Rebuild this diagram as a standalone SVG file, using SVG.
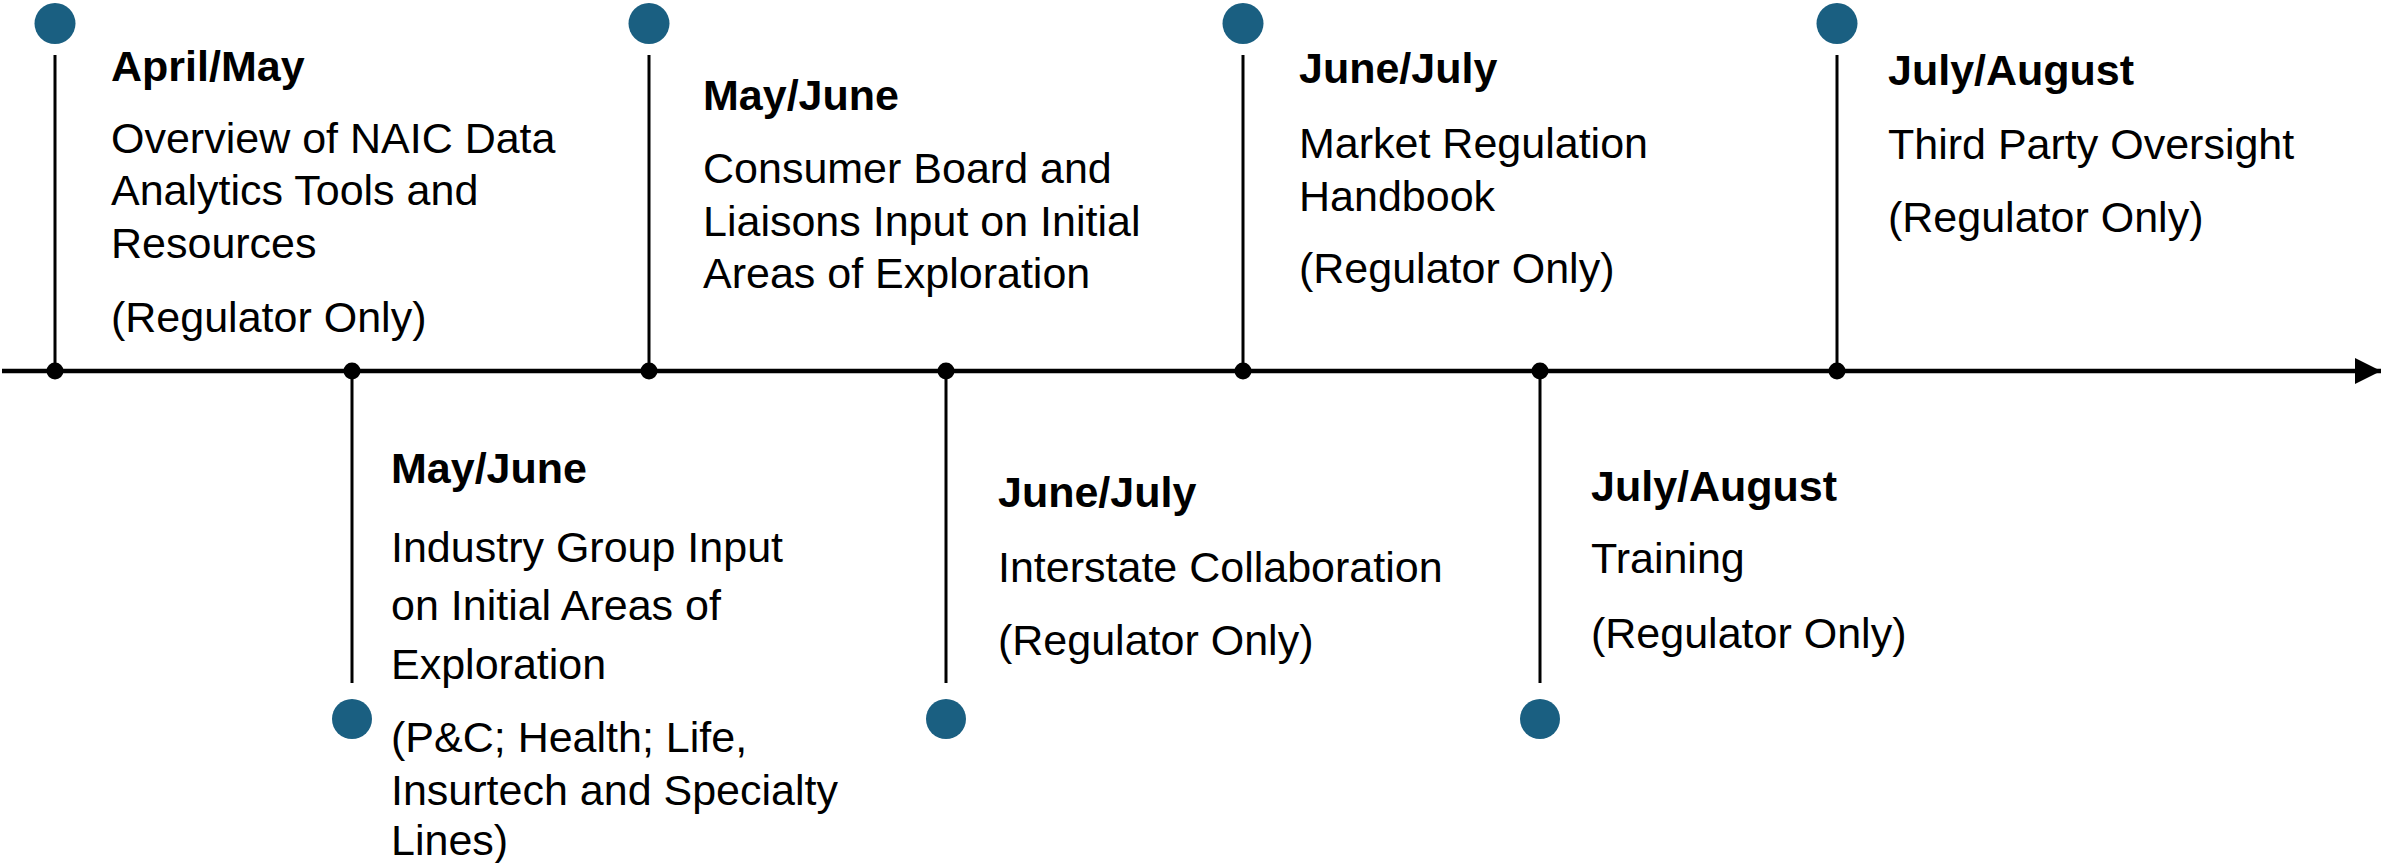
<svg xmlns="http://www.w3.org/2000/svg" width="2382" height="863" viewBox="0 0 2382 863">
<style>
  text { font-family: "Liberation Sans", Arial, sans-serif; font-size: 43px; fill: #000; }
  .h { font-weight: bold; }
  .pin { fill: #1a5f81; }
  .stem { stroke: #000; stroke-width: 3; fill: none; }
  .axis { stroke: #000; stroke-width: 4.5; fill: none; }
  .dot { fill: #000; }
</style>
<defs>
  <marker id="arrow" markerUnits="userSpaceOnUse" markerWidth="28" markerHeight="28" refX="26" refY="13" orient="auto">
    <path d="M0,0 L26,13 L0,26 Z" fill="#000"/>
  </marker>
</defs>
<rect width="2382" height="863" fill="#fff"/>
<g id="connectors">
  <line class="axis" x1="2" y1="371" x2="2381" y2="371" marker-end="url(#arrow)"/>
  <line class="stem" x1="55" y1="55" x2="55" y2="371"/>
  <line class="stem" x1="649" y1="55" x2="649" y2="371"/>
  <line class="stem" x1="1243" y1="55" x2="1243" y2="371"/>
  <line class="stem" x1="1837" y1="55" x2="1837" y2="371"/>
  <line class="stem" x1="352" y1="371" x2="352" y2="683"/>
  <line class="stem" x1="946" y1="371" x2="946" y2="683"/>
  <line class="stem" x1="1540" y1="371" x2="1540" y2="683"/>
  <circle class="dot" cx="55" cy="371" r="8.5"/>
  <circle class="dot" cx="352" cy="371" r="8.5"/>
  <circle class="dot" cx="649" cy="371" r="8.5"/>
  <circle class="dot" cx="946" cy="371" r="8.5"/>
  <circle class="dot" cx="1243" cy="371" r="8.5"/>
  <circle class="dot" cx="1540" cy="371" r="8.5"/>
  <circle class="dot" cx="1837" cy="371" r="8.5"/>
</g>
<g id="node-april-may">
  <circle class="pin" cx="55" cy="23.5" r="20.5"/>
  <text class="h" x="111" y="81">April/May</text>
  <text x="111" y="153">Overview of NAIC Data</text>
  <text x="111" y="205">Analytics Tools and</text>
  <text x="111" y="258">Resources</text>
  <text x="111" y="332">(Regulator Only)</text>
</g>
<g id="node-may-june-consumer">
  <circle class="pin" cx="649" cy="23.5" r="20.5"/>
  <text class="h" x="703" y="110">May/June</text>
  <text x="703" y="183">Consumer Board and</text>
  <text x="703" y="236">Liaisons Input on Initial</text>
  <text x="703" y="288">Areas of Exploration</text>
</g>
<g id="node-june-july-handbook">
  <circle class="pin" cx="1243" cy="23.5" r="20.5"/>
  <text class="h" x="1299" y="83">June/July</text>
  <text x="1299" y="158">Market Regulation</text>
  <text x="1299" y="211">Handbook</text>
  <text x="1299" y="283">(Regulator Only)</text>
</g>
<g id="node-july-august-third-party">
  <circle class="pin" cx="1837" cy="23.5" r="20.5"/>
  <text class="h" x="1888" y="85">July/August</text>
  <text x="1888" y="159">Third Party Oversight</text>
  <text x="1888" y="232">(Regulator Only)</text>
</g>
<g id="node-may-june-industry">
  <circle class="pin" cx="352" cy="719" r="20"/>
  <text class="h" x="391" y="483">May/June</text>
  <text x="391" y="562">Industry Group Input</text>
  <text x="391" y="620">on Initial Areas of</text>
  <text x="391" y="679">Exploration</text>
  <text x="391" y="752">(P&amp;C; Health; Life,</text>
  <text x="391" y="805">Insurtech and Specialty</text>
  <text x="391" y="855">Lines)</text>
</g>
<g id="node-june-july-interstate">
  <circle class="pin" cx="946" cy="719" r="20"/>
  <text class="h" x="998" y="507">June/July</text>
  <text x="998" y="582">Interstate Collaboration</text>
  <text x="998" y="655">(Regulator Only)</text>
</g>
<g id="node-july-august-training">
  <circle class="pin" cx="1540" cy="719" r="20"/>
  <text class="h" x="1591" y="501">July/August</text>
  <text x="1591" y="573">Training</text>
  <text x="1591" y="648">(Regulator Only)</text>
</g>
</svg>
